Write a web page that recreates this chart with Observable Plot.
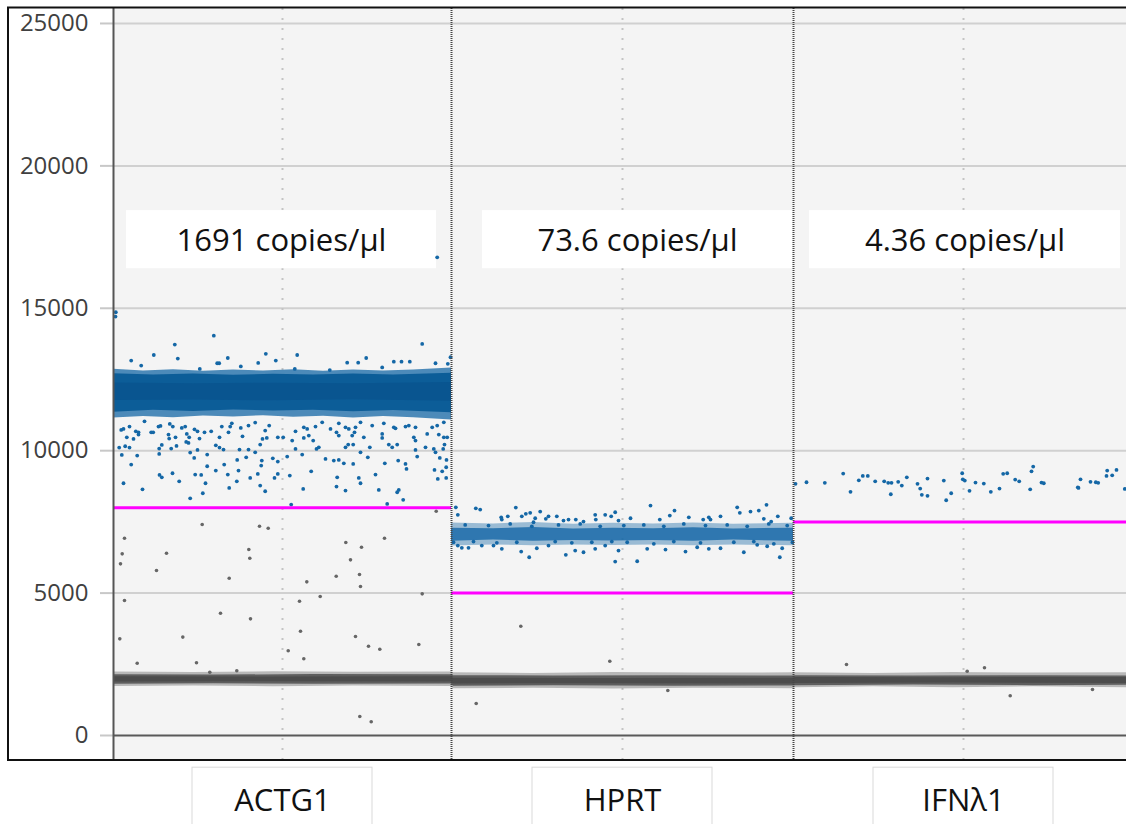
<!DOCTYPE html>
<html>
<head>
<meta charset="utf-8">
<script src="https://cdn.jsdelivr.net/npm/d3@7"></script>
<script src="https://cdn.jsdelivr.net/npm/@observablehq/plot@0.6"></script>
<style>
  body { margin: 0; background: #fff; font-family: "Open Sans", sans-serif; }
  #chart { width: 1126px; height: 824px; overflow: hidden; }
</style>
</head>
<body>
<div id="chart"></div>
<script>
// ---- wells (x = droplet event number, y = channel 1 amplitude) ----
const wellNames = ["ACTG1", "HPRT", "IFNλ1"];
const wellStart = [0, 16900, 34000];
const wellEnd = [16900, 34000, 51000];
const concentrations = ["1691 copies/µl", "73.6 copies/µl", "4.36 copies/µl"];
const thresholds = [8000, 5000, 7500];
const yTicks = [0, 5000, 10000, 15000, 20000, 25000];

// ---- dense droplet clusters: [event, low amplitude, high amplitude] ----
const actgPosOuter = [[0,11150,12860],[1500,11200,12800],[3000,11160,12840],[4500,11220,12790],[6000,11180,12830],[7500,11230,12800],[9000,11170,12840],[10500,11210,12790],[12000,11150,12830],[13500,11200,12800],[15000,11160,12830],[16900,11080,12900]];
const actgPosMain = [[0,11350,12700],[2000,11420,12660],[4000,11380,12690],[6000,11430,12650],[8000,11390,12680],[10000,11420,12660],[12000,11370,12690],[14000,11410,12660],[16900,11330,12720]];
const actgPosCore = [[0,11760,12380],[4000,11780,12350],[8000,11750,12370],[12000,11790,12350],[16900,11740,12390]];
const hprtPosOuter = [[16900,6650,7460],[19000,6690,7430],[21000,6660,7480],[23000,6690,7420],[25000,6670,7450],[27000,6690,7430],[29000,6660,7460],[31000,6690,7420],[34000,6660,7450]];
const hprtPosMain = [[16900,6820,7280],[19000,6860,7260],[21000,6820,7300],[23000,6850,7250],[25000,6830,7280],[27000,6850,7260],[29000,6820,7290],[31000,6860,7250],[34000,6820,7280]];
const negOuter = [[0,1720,2230],[4000,1740,2210],[8000,1710,2240],[12000,1740,2220],[16900,1720,2230],[17000,1640,2200],[21000,1660,2180],[25000,1630,2210],[29000,1660,2190],[34000,1640,2200],[34100,1680,2200],[38000,1710,2180],[42000,1680,2210],[46000,1710,2190],[50650,1680,2200]];
const negMain = [[0,1800,2130],[5000,1820,2120],[10000,1800,2140],[16900,1810,2130],[17000,1730,2100],[22000,1750,2090],[28000,1730,2100],[34000,1740,2090],[34100,1750,2100],[40000,1770,2090],[46000,1750,2100],[50650,1760,2090]];
const negCore = [[0,1880,2060],[8000,1890,2050],[16900,1880,2060],[17000,1810,2010],[25000,1820,2000],[34000,1810,2010],[34100,1830,2040],[42000,1840,2030],[50650,1830,2040]];

// ---- single droplets: [event, amplitude] ----
const actgPositive = [
  [115,14860],[100,14710],[5015,14040],[3065,13725],[2015,13360],[3215,13235],[885,13165],[1385,12990],
  [5715,13255],[5285,13070],[5185,13070],[7615,13400],[8115,13165],[7235,13080],[15435,13750],[9185,13360],
  [12635,13255],[11685,13090],[12235,13090],[14015,13125],[14400,13125],[14815,13125],[16100,13070],[16715,13050],
  [13435,12925],[9065,12870],[4315,12870],[6365,12960],[10815,12830],[16185,16790],[16850,13280],
  [500,10765],[800,10846],[385,10730],[1115,10681],[1250,10646],[1550,11032],[1885,10646],[1985,10646],
  [2250,10846],[2350,10871],[2815,10941],[2965,10846],[3415,10800],[3585,10846],[4050,10751],[4200,10681],
  [4550,10646],[4885,10681],[5415,10846],[5835,10846],[5915,10962],[6365,10800],[6750,10881],[7085,10986],
  [7585,10706],[7785,10881],[665,10470],[1000,10414],[1250,10565],[2750,10565],[2785,10425],[3100,10470],
  [3665,10589],[3785,10470],[4300,10425],[5300,10470],[5750,10646],[6450,10506],[7450,10414],[7665,10449],
  [8215,10470],[285,10109],[585,10155],[800,10109],[415,9853],[1185,9828],[2285,10074],[2415,10204],
  [2885,10074],[3150,10169],[2285,9888],[3635,10309],[3750,10274],[3835,9933],[4200,10028],[4035,9747],
  [4685,9863],[5115,10190],[5300,10109],[5500,10039],[6185,9677],[6300,10039],[6750,10039],[6635,9768],
  [7085,9944],[7335,10214],[7415,9653],[7385,9477],[7965,9733],[8215,9617],[885,9512],[500,8856],
  [1450,8645],[2300,9150],[2415,9066],[2950,9207],[3285,8926],[3835,8329],[4085,9161],[4385,9150],
  [4465,8505],[4600,8856],[4685,9453],[5115,9302],[5535,9512],[5715,9161],[5785,8694],[6165,8926],
  [6250,9302],[6835,9045],[7215,9183],[7335,8775],[7585,8575],[8050,9045],[8215,9183],
  [9100,10681],[9515,10822],[9685,10765],[10100,10846],[10435,10997],[10850,10765],[11265,10962],[11600,10822],
  [11765,10765],[12100,10822],[12350,10997],[12935,10881],[13515,10962],[14015,10822],[14100,10786],[14600,10846],
  [14765,10881],[15100,10822],[15935,10822],[16185,10881],[16515,10997],[8485,10470],[8935,10355],[9515,10449],
  [9765,10530],[9985,10355],[11150,10646],[11265,10530],[11935,10530],[12050,10646],[12515,10470],[13435,10589],
  [13435,10449],[15015,10470],[15100,10355],[15685,10589],[16265,10565],[16515,10470],[16685,10470],[9100,10063],
  [8685,9793],[9435,9863],[10150,10063],[10265,10119],[10600,9712],[11015,9653],[11265,9677],[11600,10119],
  [11735,10214],[11985,10214],[11515,9558],[11985,9537],[12350,9944],[12815,10119],[12715,9768],[13765,10214],
  [13935,10119],[14185,10214],[14235,9653],[14600,9537],[14650,9361],[15100,10028],[15185,9793],[15600,10119],
  [16015,10063],[16100,9944],[16315,9747],[16550,10214],[16485,10063],[16650,9677],[16635,9418],
  [8815,9126],[9885,9277],[9485,8659],[11185,9066],[11150,8740],[11600,8600],[12350,8856],[12265,9045],
  [13100,9161],[13265,8624],[13565,9558],[14185,8540],[14265,8624],[14485,8273],[13685,8132],[8885,8108],
  [16050,9326],[16215,9010],[16435,9277],[16635,9045]
];
const hprtPositive = [
  [17115,8013],[18115,7978],[18335,7933],[20115,8003],[17215,7747],[19385,7662],[19415,7582],[19715,7697],
  [20615,7782],[20835,7817],[21335,7862],[21085,7627],[21615,7606],[21750,7697],[22165,7697],[22500,7547],
  [22750,7582],[23115,7582],[23500,7511],[24085,7747],[24115,7582],[24585,7747],[24885,7697],[25085,7838],
  [25250,7547],[20415,7697],[21000,7487],
  [17215,6669],[17415,6588],[17750,6588],[18415,6669],[19000,6669],[19415,6553],[20385,6458],[20785,6258],
  [21750,6669],[22615,6343],[23500,6434],[24085,6553],[24585,6669],[25085,6107],[25250,6494],[21165,6574],
  [23085,6494],
  [26850,8073],[28050,7898],[31185,8013],[31315,7817],[31850,7862],[32265,7898],[32650,8098],[25850,7627],
  [27315,7582],[27815,7722],[28765,7662],[29485,7582],[29765,7662],[29850,7582],[30350,7697],[32515,7606],
  [32885,7511],[33215,7697],[33885,7627],
  [26185,6118],[31515,6434],[33315,6258],[28600,6458],[27600,6529],[29765,6553],[30350,6574],[32185,6693],
  [32685,6644],[33435,6574],[26685,6553],[29185,6609],
  [17585,7395],[18750,7371],[19835,7430],[20915,7346],[22250,7395],[23335,7430],[24335,7346],
  [17000,6785],[18000,6809],[19165,6764],[20165,6785],[22085,6809],[22915,6764],[23915,6785],[24915,6809],
  [25515,7371],[26515,7395],[27515,7346],[28515,7430],[29600,7371],[30685,7395],[31685,7346],[32765,7430],
  [33685,7371],[25685,6785],[27015,6729],[28015,6809],[29350,6764],[31015,6785],[32015,6809],[33015,6729],
  [33950,6785]
];
const ifnPositive = [
  [34100,8835],[34650,8891],[35565,8870],[36485,9196],[36850,8554],[37265,8961],[37465,9115],[37715,9115],
  [38085,8926],[38535,8926],[38735,8870],[38900,8870],[38865,8470],[39235,8905],[39415,8775],[39665,9066],
  [40200,8835],[40335,8670],[40415,8449],[40700,9021],[40700,8414],[41515,8951],[41635,8259],[41885,8505],
  [42435,9207],[42465,8996],[42565,8951],[42800,8589],[43100,8880],[43515,8845],[43865,8554],[44300,8670],
  [44485,9186],[44685,9207],[45085,8986],[45285,8926],[45835,8645],[45900,9277],[45985,9442],[46400,8880],
  [46515,8856],[48215,8715],[48250,8694],[48350,8996],[48850,8905],[49115,8891],[49235,8870],[49650,9115],
  [49685,9302],[49935,9136],[50150,9326],[50565,8659]
];
const negativeStrays = [
  [550,6925],[435,6378],[350,6027],[550,4740],[315,3394],[1185,2538],[2150,5792],[2650,6399],
  [3465,3454],[4150,2552],[4435,7406],[4815,2222],[5350,4293],[5785,5521],[6165,2271],[6765,6529],
  [6815,6223],[6850,4096],[7300,7346],[7735,7276],[8735,2973],[9300,4714],[9350,3661],[9515,2692],
  [9665,5395],[10335,4879],[11135,5591],[11615,6774],[11850,6167],[12100,3475],[12300,5651],[12350,5230],
  [12400,6609],[12315,667],[12885,481],[12750,3134],[13315,3029],[13550,6925],[15265,3194],[15435,4974],
  [16135,7873],
  [20365,3836],[24815,2608],[27715,1580],[18135,1123],
  [36650,2492],[43550,2376],[44835,1393],[48950,1615],[42685,2257]
];

const wells = wellNames.map((name, i) => ({
  name,
  start: wellStart[i],
  end: wellEnd[i],
  mid: (wellStart[i] + wellEnd[i]) / 2,
  conc: concentrations[i],
  threshold: thresholds[i]
}));

// layout of the concentration call-outs (event span, amplitude span)
const calloutSpan = [[650, 16150], [18450, 33950], [34800, 50350]];
const calloutLow = 16390, calloutHigh = 18430, calloutText = 17350;
const callouts = wells.map((w, i) => ({ ...w, x1: calloutSpan[i][0], x2: calloutSpan[i][1] }));
// half width (in events) of the boxed well names below the panel
const nameHalfWidth = 4500;

const blue = "#1467a6";
const gray = "#5e5e5e";
const xy = { x: d => d[0], y: d => d[1] };
const band = { x: d => d[0], y1: d => d[1], y2: d => d[2], curve: "linear" };

const chart = Plot.plot({
  width: 1126,
  height: 824,
  marginLeft: 113,
  marginRight: 0,
  marginTop: 8,
  marginBottom: 64,
  style: { background: "transparent", fontFamily: "'Open Sans', sans-serif" },
  x: { domain: [0, 50650], axis: null },
  y: { domain: [-878, 25526] },
  marks: [
    Plot.frame({ fill: "#f4f4f4", stroke: "none" }),
    Plot.ruleY(yTicks.filter(d => d > 0), { stroke: "#d0d0d0", strokeWidth: 2 }),
    Plot.ruleX(wells, { x: "mid", stroke: "#c4c4c4", strokeWidth: 2, strokeDasharray: "2,8" }),
    Plot.ruleY([0], { stroke: "#595959", strokeWidth: 2 }),
    Plot.axisY(yTicks, {
      tickSize: 13, tickPadding: 12, fontSize: 24,
      stroke: "#c8c8c8", strokeWidth: 2, fill: "#404040",
      tickFormat: d => String(d), label: null
    }),
    // concentration call-outs
    Plot.rect(callouts, { x1: "x1", x2: "x2", y1: () => calloutLow, y2: () => calloutHigh, fill: "#ffffff" }),
    Plot.text(callouts, { x: d => (d.x1 + d.x2) / 2, y: () => calloutText, text: "conc", fontSize: 31, fill: "#111" }),
    // negative droplets
    Plot.areaY(negOuter, { ...band, fill: gray, fillOpacity: 0.4 }),
    Plot.areaY(negMain, { ...band, fill: gray }),
    Plot.areaY(negCore, { ...band, fill: "#4c4c4c" }),
    Plot.dot(negativeStrays, { ...xy, r: 1.8, fill: "#666666" }),
    // positive droplets
    Plot.areaY(actgPosOuter, { ...band, fill: blue, fillOpacity: 0.75 }),
    Plot.areaY(actgPosMain, { ...band, fill: "#0c5d98" }),
    Plot.areaY(actgPosCore, { ...band, fill: "#095590" }),
    Plot.areaY(hprtPosOuter, { ...band, fill: blue, fillOpacity: 0.4 }),
    Plot.areaY(hprtPosMain, { ...band, fill: blue, fillOpacity: 0.8 }),
    Plot.dot(actgPositive, { ...xy, r: 1.9, fill: blue }),
    Plot.dot(hprtPositive, { ...xy, r: 1.9, fill: blue }),
    Plot.dot(ifnPositive, { ...xy, r: 1.9, fill: blue }),
    // thresholds
    Plot.ruleY(wells, { y: "threshold", x1: "start", x2: "end", stroke: "#ff00ff", strokeWidth: 3 }),
    // well boundaries
    Plot.ruleX([wellStart[0]], { stroke: "#555", strokeWidth: 2 }),
    Plot.ruleX(wellStart.slice(1), { stroke: "#444", strokeWidth: 2, strokeDasharray: "1,1" }),
    // well names under the panel
    Plot.rect(wells, { x1: d => d.mid - nameHalfWidth, x2: d => d.mid + nameHalfWidth, y1: () => -1130, y2: () => -3400, fill: "#fff", stroke: "#d9d9d9", strokeWidth: 1 }),
    Plot.text(wells, { x: "mid", text: "name", frameAnchor: "bottom", dy: 50, fontSize: 31, fill: "#111" })
  ]
});

// outer black frame around the amplitude panel
d3.select(chart).append("rect")
  .attr("x", 8).attr("y", 7.5).attr("width", 1130).attr("height", 752.5)
  .attr("fill", "none").attr("stroke", "#111").attr("stroke-width", 2);

document.getElementById("chart").appendChild(chart);
</script>
</body>
</html>
